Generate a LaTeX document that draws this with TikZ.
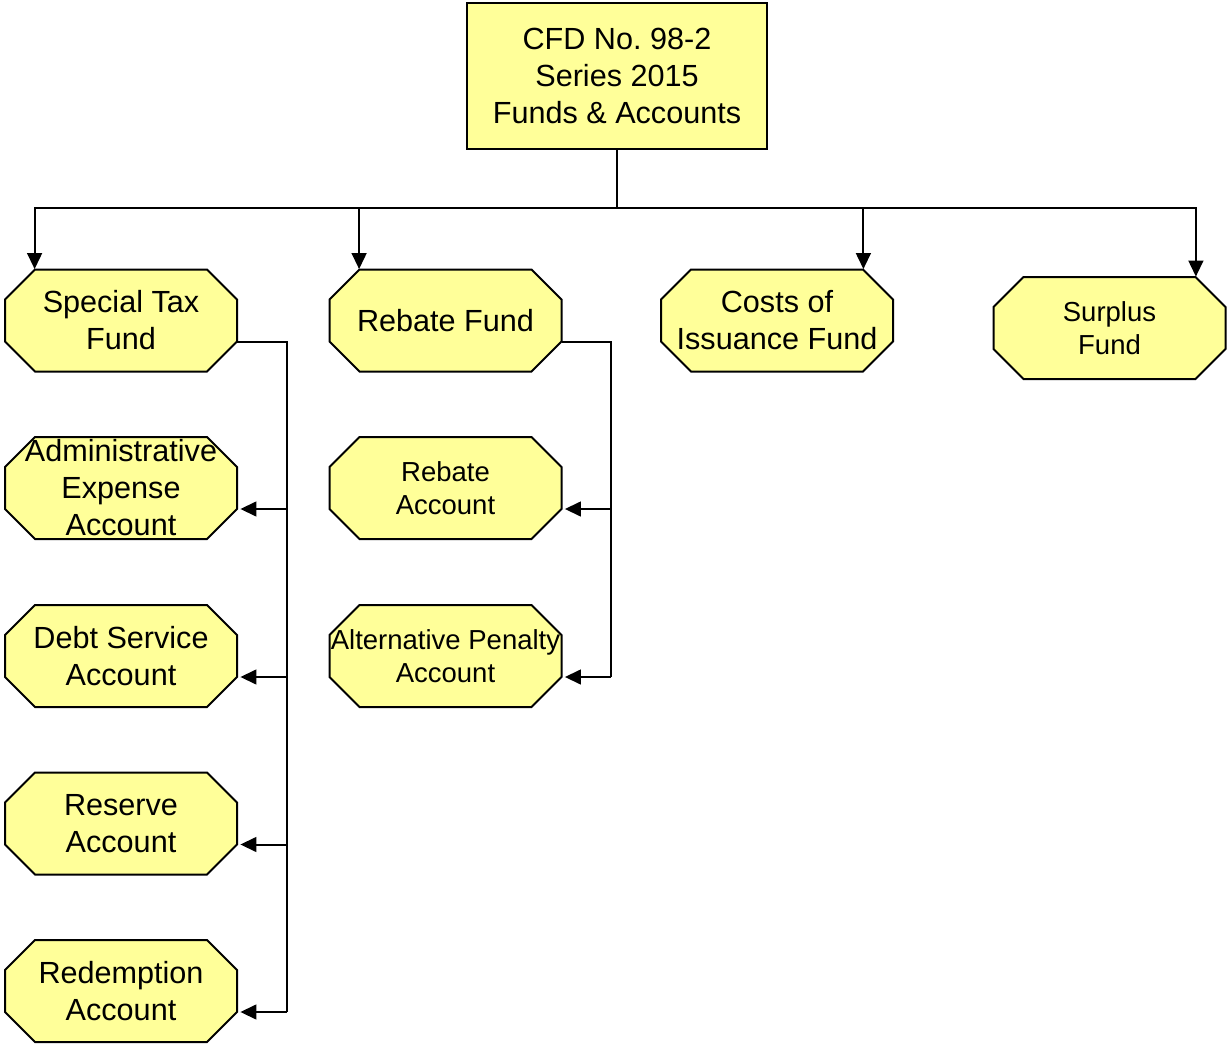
\documentclass[tikz,border=0pt]{standalone}
\usepackage{fontspec}
\setmainfont{Liberation Sans}
\usetikzlibrary{arrows.meta,calc}
\definecolor{boxfill}{HTML}{FFFF99}
\tikzset{
  octline/.style={draw=black,line width=1pt,fill=boxfill,line join=miter},
  bigtxt/.style={font=\fontsize{15.3}{18.5}\selectfont},
  smalltxt/.style={font=\fontsize{13.75}{16.6}\selectfont},
  label/.style={align=center,inner sep=0pt,minimum width=116pt,minimum height=51pt},
  link/.style={draw=black,line width=1pt},
  arr/.style={link,-{Triangle[length=8pt,width=7.4pt]}}
}
\newcommand\octa[5]{%
  \draw[octline,shift={(#2,#3)}] (-116,-21) -- (-86,-51) -- (86,-51) -- (116,-21)
     -- (116,21) -- (86,51) -- (-86,51) -- (-116,21) -- cycle;
  \node[label,#4] (#1) at (#2,#3) {#5};
}
\begin{document}
\frenchspacing
\begin{tikzpicture}[x=0.5pt,y=-0.5pt]
\useasboundingbox (0,0) rectangle (1228,1044);
% top box
\node[draw=black,line width=1pt,fill=boxfill,minimum width=150pt,minimum height=73pt,inner sep=0pt,align=center,bigtxt] (top) at (617,75.5) {CFD No.\ 98-2\\Series 2015\\Funds \& Accounts};
% octagons
\octa{stf}{121}{320.5}{bigtxt}{Special Tax\\Fund}
\octa{rbf}{445.5}{320.5}{bigtxt}{Rebate Fund}
\octa{coi}{777}{320.5}{bigtxt}{Costs of\\Issuance Fund}
\octa{sur}{1109.5}{328}{smalltxt}{Surplus\\Fund}
\octa{adm}{121}{488}{bigtxt}{Administrative\\Expense\\Account}
\octa{dsa}{121}{656}{bigtxt}{Debt Service\\Account}
\octa{res}{121}{823.5}{bigtxt}{Reserve\\Account}
\octa{red}{121}{991}{bigtxt}{Redemption\\Account}
\octa{rba}{445.5}{488}{smalltxt}{Rebate\\Account}
\octa{alt}{445.5}{656}{smalltxt}{Alternative Penalty\\Account}
% top distribution
\coordinate (j) at (617,208);
\draw[link] (top.south) -- (j);
\draw[arr] (j) -| ($(stf.north west)+(30,0)$);
\draw[arr] (j) -| ($(rbf.north west)+(30,0)$);
\draw[arr] (j) -| ($(coi.north east)+(-30,0)$);
\draw[arr] (j) -| ($(sur.north east)+(-30,0)$);
% special tax fund branch
\coordinate (sbus) at (287,0);
\coordinate (s1) at ($(stf.east)+(0,21)$);
\coordinate (admV) at ($(adm.east)+(3,21)$);
\coordinate (dsaV) at ($(dsa.east)+(3,21)$);
\coordinate (resV) at ($(res.east)+(3,21)$);
\coordinate (redV) at ($(red.east)+(3,21)$);
\draw[link] (s1) -- (sbus |- s1) -- (sbus |- redV);
\draw[arr] (sbus |- admV) -- (admV);
\draw[arr] (sbus |- dsaV) -- (dsaV);
\draw[arr] (sbus |- resV) -- (resV);
\draw[arr] (sbus |- redV) -- (redV);
% rebate fund branch
\coordinate (rbus) at (611,0);
\coordinate (r1) at ($(rbf.east)+(0,21)$);
\coordinate (rbaV) at ($(rba.east)+(3,21)$);
\coordinate (altV) at ($(alt.east)+(3,21)$);
\draw[link] (r1) -- (rbus |- r1) -- (rbus |- altV);
\draw[arr] (rbus |- rbaV) -- (rbaV);
\draw[arr] (rbus |- altV) -- (altV);
\end{tikzpicture}
\end{document}
